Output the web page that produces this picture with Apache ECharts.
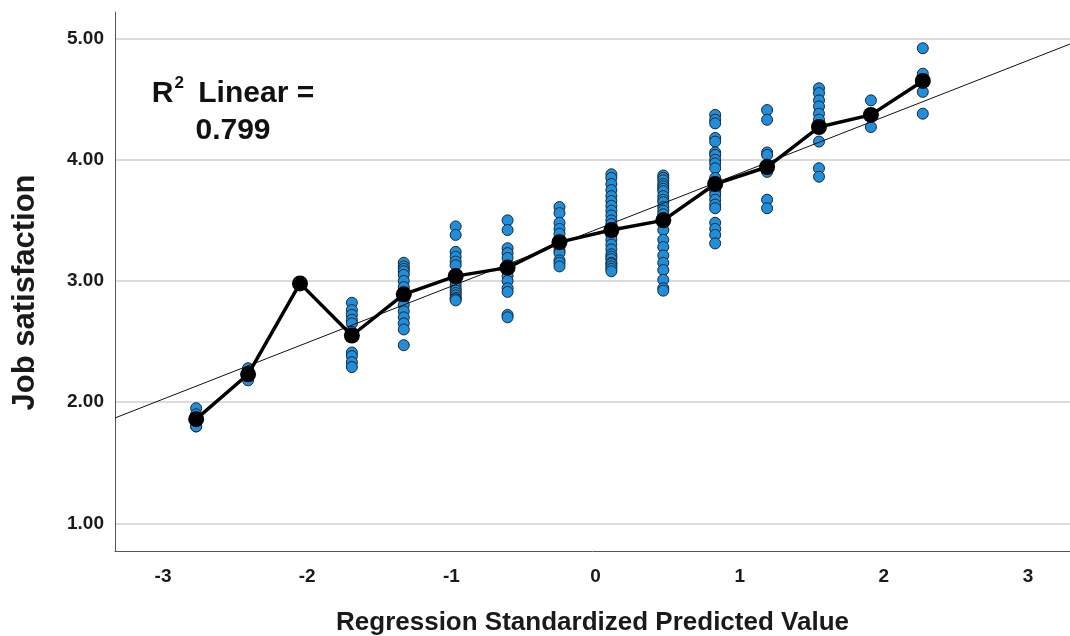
<!DOCTYPE html>
<html>
<head>
<meta charset="utf-8">
<script src="https://cdn.jsdelivr.net/npm/echarts@6/dist/echarts.min.js"></script>
<style>
  html, body { margin: 0; padding: 0; background: #ffffff; }
  #chart { width: 1070px; height: 636px; }
</style>
</head>
<body>
<div id="chart"></div>
<script>
// Standardized predicted value for each group of respondents
const predictedValues = [-2.77, -2.41, -2.05, -1.69, -1.33, -0.97, -0.61, -0.25, 0.11, 0.47, 0.83, 1.19, 1.55, 1.91, 2.27];

// Observed job satisfaction scores at each predicted value
const observedScores = [
  [1.95, 1.90, 1.85, 1.80, 1.80],
  [2.28, 2.25, 2.21, 2.18],
  [2.98],
  [2.82, 2.76, 2.72, 2.68, 2.65, 2.58, 2.41, 2.38, 2.33, 2.29],
  [3.15, 3.12, 3.10, 3.08, 3.05, 3.00, 2.95, 2.90, 2.85, 2.80, 2.75, 2.70, 2.65, 2.60, 2.47],
  [3.45, 3.38, 3.24, 3.20, 3.16, 3.13, 3.05, 3.00, 2.97, 2.94, 2.92, 2.90, 2.88, 2.86, 2.85, 2.84],
  [3.50, 3.42, 3.27, 3.23, 3.19, 3.12, 3.10, 3.04, 3.00, 2.94, 2.91, 2.72, 2.70],
  [3.61, 3.56, 3.48, 3.43, 3.39, 3.32, 3.28, 3.25, 3.23, 3.17, 3.15, 3.12],
  [3.88, 3.85, 3.80, 3.75, 3.70, 3.66, 3.62, 3.58, 3.54, 3.50, 3.47, 3.42, 3.38, 3.34, 3.30, 3.26, 3.22, 3.20, 3.18, 3.15, 3.14, 3.12, 3.10, 3.08],
  [3.87, 3.85, 3.83, 3.80, 3.78, 3.76, 3.74, 3.70, 3.67, 3.65, 3.61, 3.58, 3.55, 3.52, 3.42, 3.34, 3.28, 3.21, 3.15, 3.09, 3.01, 2.94, 2.92],
  [4.37, 4.33, 4.30, 4.18, 4.15, 4.06, 4.04, 4.00, 3.97, 3.93, 3.85, 3.80, 3.76, 3.74, 3.71, 3.67, 3.63, 3.60, 3.48, 3.43, 3.38, 3.31],
  [4.41, 4.33, 4.06, 4.04, 3.96, 3.90, 3.67, 3.60],
  [4.59, 4.55, 4.49, 4.44, 4.38, 4.33, 4.27, 4.15, 3.93, 3.86],
  [4.49, 4.38, 4.27],
  [4.92, 4.71, 4.66, 4.56, 4.38]
];

// Mean job satisfaction at each predicted value (interpolation line)
const groupMeans = [1.86, 2.23, 2.98, 2.55, 2.89, 3.04, 3.11, 3.32, 3.42, 3.50, 3.80, 3.94, 4.27, 4.37, 4.65];

// Linear fit: intercept, slope and R squared
const fitIntercept = 3.422;
const fitSlope = 0.4657;
const fitRSquared = 0.799;

const xRange = [-3.333, 3.291];
const yRange = [0.772, 5.219];

const FONT = "'Liberation Sans', Arial, Helvetica, sans-serif";
const TEXT = '#1a1a1a';

const scatterData = [];
predictedValues.forEach((x, i) => {
  observedScores[i].forEach(v => scatterData.push([x, v]));
});
const meanData = predictedValues.map((x, i) => [x, groupMeans[i]]);
const fitData = xRange.map(x => [x, fitIntercept + fitSlope * x]);

const chart = echarts.init(document.getElementById('chart'), null, { renderer: 'canvas' });

chart.setOption({
  backgroundColor: '#ffffff',
  animation: false,
  grid: { left: 115, right: 0, top: 12, bottom: 85, containLabel: false, outerBoundsMode: 'none' },
  xAxis: {
    type: 'value',
    min: xRange[0],
    max: xRange[1],
    splitNumber: 6,
    name: 'Regression Standardized Predicted Value',
    nameLocation: 'middle',
    nameGap: 59,
    nameTextStyle: { fontFamily: FONT, fontWeight: 'bold', fontSize: 26, color: TEXT },
    axisLine: { show: true, onZero: false, lineStyle: { color: '#555555', width: 1 } },
    axisTick: { show: false },
    axisLabel: {
      show: true, showMinLabel: false, showMaxLabel: false, margin: 16,
      fontFamily: FONT, fontWeight: 'bold', fontSize: 19, color: TEXT,
      formatter: v => String(Math.round(v))
    },
    splitLine: { show: false }
  },
  yAxis: {
    type: 'value',
    min: yRange[0],
    max: yRange[1],
    splitNumber: 5,
    name: 'Job satisfaction',
    nameLocation: 'middle',
    nameGap: 74,
    nameTextStyle: { fontFamily: FONT, fontWeight: 'bold', fontSize: 31, color: TEXT, padding: [0, 22, 0, 0] },
    axisLine: { show: true, onZero: false, lineStyle: { color: '#555555', width: 1 } },
    axisTick: { show: false },
    axisLabel: {
      show: true, showMinLabel: false, showMaxLabel: false, margin: 11,
      fontFamily: FONT, fontWeight: 'bold', fontSize: 19, color: TEXT,
      formatter: v => v.toFixed(2)
    },
    splitLine: { show: true, showMinLine: false, showMaxLine: false, lineStyle: { color: '#cfcfcf', width: 1.6 } }
  },
  series: [
    {
      name: 'Observed',
      type: 'scatter',
      data: scatterData,
      symbol: 'circle',
      symbolSize: 11,
      itemStyle: { color: '#1e8fdc', borderColor: '#1b2733', borderWidth: 1, opacity: 1 },
      z: 2
    },
    {
      name: 'Linear fit',
      type: 'line',
      data: fitData,
      showSymbol: false,
      symbol: 'none',
      lineStyle: { color: '#111111', width: 1 },
      z: 3
    },
    {
      name: 'Mean',
      type: 'line',
      data: meanData,
      symbol: 'circle',
      symbolSize: 16,
      itemStyle: { color: '#000000', borderColor: '#000000', borderWidth: 0 },
      lineStyle: { color: '#000000', width: 3.5 },
      z: 4
    }
  ],
  graphic: [
    {
      type: 'text',
      x: 233,
      y: 75,
      z: 10,
      style: {
        text: '{b|R}{sup|2}{b| Linear =}\n{b|' + fitRSquared.toFixed(3) + '}',
        align: 'center',
        verticalAlign: 'top',
        rich: {
          b: { fontFamily: FONT, fontWeight: 'bold', fontSize: 30, lineHeight: 37, fill: '#111111' },
          sup: { fontFamily: FONT, fontWeight: 'bold', fontSize: 17, lineHeight: 22, verticalAlign: 'top', fill: '#111111', padding: [0, 6, 0, 1] }
        }
      }
    }
  ]
});
</script>
</body>
</html>
